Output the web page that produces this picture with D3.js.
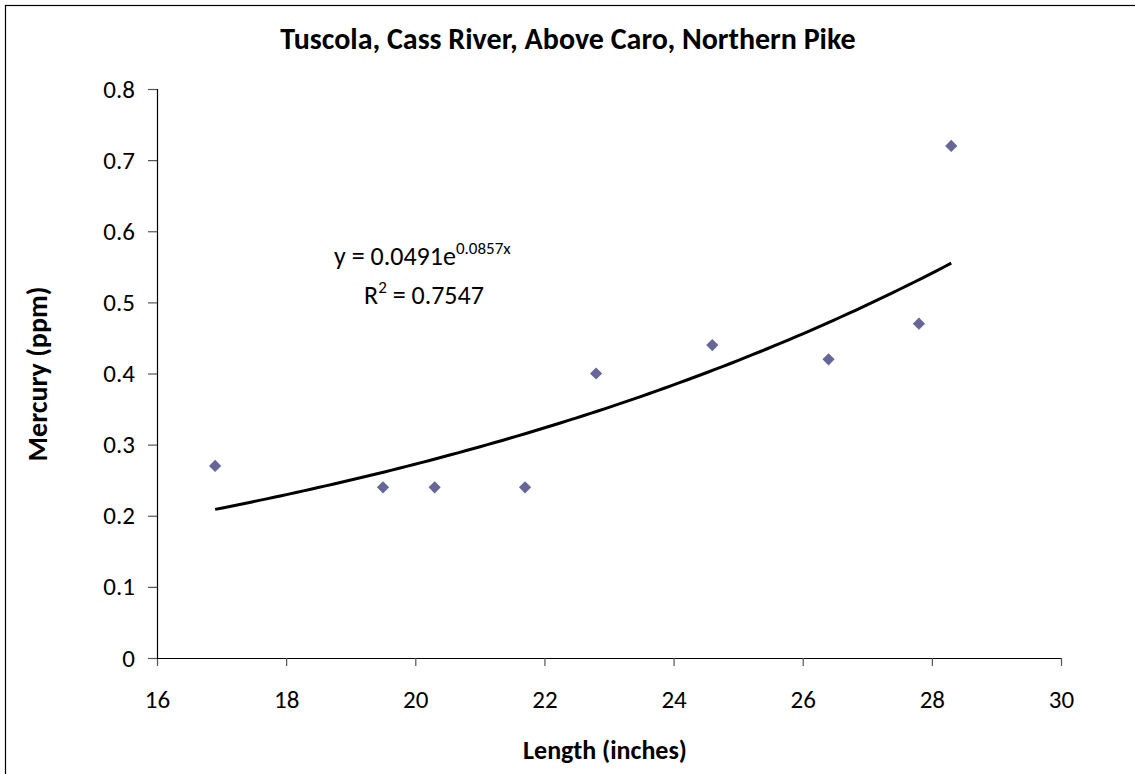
<!DOCTYPE html>
<html><head><meta charset="utf-8">
<script src="https://cdn.jsdelivr.net/npm/d3@7"></script>
<style>body{margin:0;background:#fff;} text{font-family:Carlito,Calibri,Lato,"Open Sans",sans-serif;}</style>
</head><body>
<svg id="c" width="1135" height="774"></svg>
<script>
const lengths = [16.9, 19.5, 20.3, 21.7, 22.8, 24.6, 26.4, 27.8, 28.3];
const mercury = [0.27, 0.24, 0.24, 0.24, 0.40, 0.44, 0.42, 0.47, 0.72];
const xTicks = [16, 18, 20, 22, 24, 26, 28, 30];
const yTicks = [0, 0.1, 0.2, 0.3, 0.4, 0.5, 0.6, 0.7, 0.8];
const trendA = 0.0491, trendB = 0.0857;
const trendRange = [16.9, 28.3];
const title = "Tuscola, Cass River, Above Caro, Northern Pike";

const svg = d3.select("#c");
svg.append("rect").attr("x",5.5).attr("y",5.5).attr("width",1140).attr("height",780)
  .attr("fill","#fff").attr("stroke","#000").attr("stroke-width",1.2);

const x = d3.scaleLinear().domain([16,30]).range([157,1061]);
const y = d3.scaleLinear().domain([0,0.8]).range([658,89]);

const xa = svg.append("g").attr("transform","translate(0,658)")
  .call(d3.axisBottom(x).tickValues(xTicks).tickSize(8).tickFormat(d3.format("d")));
const ya = svg.append("g").attr("transform","translate(157,0)")
  .call(d3.axisLeft(y).tickValues(yTicks).tickSize(9).tickPadding(13).tickFormat(d=>d===0?"0":d3.format(".1f")(d)));
[xa,ya].forEach(g=>{
  g.select(".domain").attr("stroke","#000").attr("stroke-width",1.2);
  g.selectAll(".tick line").attr("stroke","#555").attr("stroke-width",1.2);
  g.selectAll(".tick text").attr("font-size",25).attr("fill","#000");
});
xa.selectAll(".tick text").attr("y",50).attr("dy",0);
xa.select(".domain").attr("d","M148,0.5H1061.5");

const pts = d3.range(0,101).map(i=>{const xv=trendRange[0]+(trendRange[1]-trendRange[0])*i/100;return [xv,trendA*Math.exp(trendB*xv)];});
svg.append("path").datum(pts).attr("fill","none").attr("stroke","#000").attr("stroke-width",3)
  .attr("d",d3.line().x(d=>x(d[0])).y(d=>y(d[1])));

const sym = d3.symbol().type(d3.symbolDiamond2).size(95);
svg.selectAll(".pt").data(lengths.map((l,i)=>[l,mercury[i]])).join("path")
  .attr("transform",d=>`translate(${x(d[0])},${y(d[1])})`).attr("d",sym).attr("fill","#666699");

svg.append("text").attr("x",568).attr("y",49).attr("text-anchor","middle").attr("font-size",30).attr("font-weight","bold").text(title);

const eq = svg.append("text").attr("x",334).attr("y",265).attr("font-size",26);
eq.append("tspan").text("y = 0.0491e");
eq.append("tspan").attr("font-size",17).attr("dy",-11).text("0.0857x");
const r2 = svg.append("text").attr("x",364).attr("y",304).attr("font-size",26);
r2.append("tspan").text("R");
r2.append("tspan").attr("font-size",17).attr("dy",-11).text("2");
r2.append("tspan").attr("dy",11).text(" = 0.7547");

svg.append("text").attr("transform","translate(47,374) rotate(-90)").attr("text-anchor","middle")
  .attr("font-size",28).attr("font-weight","bold").text("Mercury (ppm)");
svg.append("text").attr("x",605).attr("y",759).attr("text-anchor","middle")
  .attr("font-size",26).attr("font-weight","bold").text("Length (inches)");
</script></body></html>
